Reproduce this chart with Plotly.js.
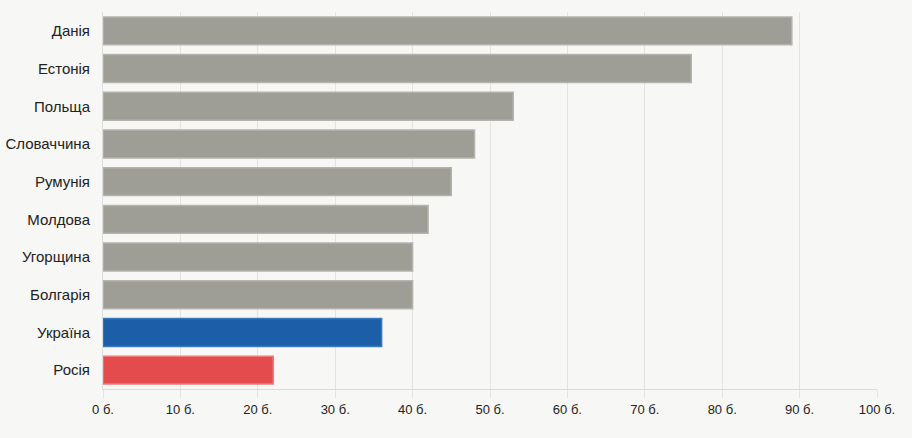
<!DOCTYPE html>
<html><head><meta charset="utf-8">
<script src="https://cdn.plot.ly/plotly-3.0.1.min.js"></script>
<style>html,body{margin:0;padding:0;background:#f7f7f5;}#chart{width:912px;height:438px;}</style>
</head><body><div id="chart"></div>
<script>
const countries = ["Данія","Естонія","Польща","Словаччина","Румунія","Молдова","Угорщина","Болгарія","Україна","Росія"];
const scores = [89,76,53,48,45,42,40,40,36,22];
const tickVals = [0,10,20,30,40,50,60,70,80,90,100];
const tickText = tickVals.map(v => v + " б.");

const fill = countries.map(c => c==="Україна" ? "#1c5fa8" : c==="Росія" ? "#e44b4d" : "#9e9d96");
const edge = countries.map(c => c==="Україна" ? "#3b79be" : c==="Росія" ? "#ee7a7b" : "#b4b3ad");

Plotly.newPlot("chart", [{
  type: "bar", orientation: "h",
  x: scores, y: countries,
  marker: {color: fill, line: {color: edge, width: 1.5}},
  hoverinfo: "x+y"
}], {
  width: 912, height: 438,
  paper_bgcolor: "#f7f7f5", plot_bgcolor: "#f7f7f5",
  margin: {l: 103, r: 35, t: 12, b: 49},
  bargap: 0.26,
  showlegend: false,
  font: {family: "Liberation Sans, Arial, sans-serif", size: 13, color: "#222"},
  xaxis: {
    range: [0, 100], tickvals: tickVals, ticktext: tickText,
    showgrid: true, gridcolor: "#e3e3e1", gridwidth: 1,
    zeroline: false, showline: true, linecolor: "#dcdcda", linewidth: 1,
    ticks: "outside", ticklen: 8, tickcolor: "#e3e3e1",
    tickfont: {size: 13, color: "#222"}, fixedrange: true
  },
  yaxis: {
    autorange: "reversed", showgrid: false, zeroline: false,
    showline: true, linecolor: "#dcdcda", linewidth: 1,
    ticks: "", ticklabelstandoff: 9,
    tickfont: {size: 15, color: "#222"}, fixedrange: true
  }
}, {displayModeBar: false, staticPlot: true});
</script></body></html>
